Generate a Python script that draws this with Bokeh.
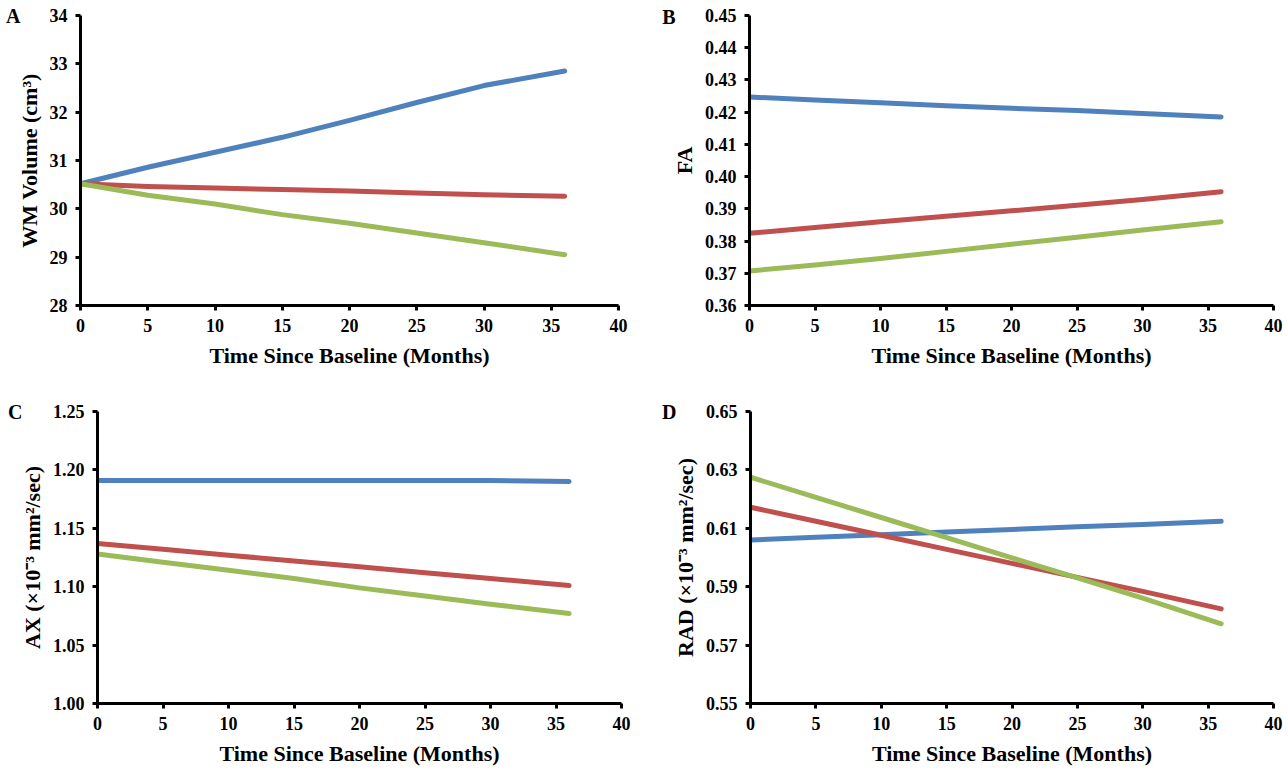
from bokeh.plotting import figure
from bokeh.layouts import column, row
from bokeh.models import Range1d, FixedTicker, NumeralTickFormatter, LinearAxis
from bokeh.embed import file_html
from bokeh.resources import INLINE

BLUE = "#4F81BD"
RED = "#C0504D"
GREEN = "#9BBB59"
FONT = "Liberation Serif"

# ---- data ----
months = [0, 5, 10, 15, 20, 25, 30, 36]
x_ticks = [0, 5, 10, 15, 20, 25, 30, 35, 40]

wm_blue = [30.52, 30.86, 31.17, 31.48, 31.83, 32.20, 32.55, 32.85]
wm_red = [30.52, 30.46, 30.43, 30.40, 30.37, 30.33, 30.29, 30.26]
wm_green = [30.52, 30.28, 30.10, 29.88, 29.70, 29.50, 29.30, 29.05]
wm_ticks = [28, 29, 30, 31, 32, 33, 34]

fa_blue = [0.4247, 0.4238, 0.4229, 0.4220, 0.4212, 0.4205, 0.4196, 0.4185]
fa_red = [0.3824, 0.3842, 0.3860, 0.3877, 0.3894, 0.3911, 0.3929, 0.3953]
fa_green = [0.3707, 0.3726, 0.3746, 0.3768, 0.3790, 0.3812, 0.3834, 0.3860]
fa_ticks = [0.36, 0.37, 0.38, 0.39, 0.40, 0.41, 0.42, 0.43, 0.44, 0.45]

ax_blue = [1.191, 1.191, 1.191, 1.191, 1.191, 1.191, 1.191, 1.190]
ax_red = [1.137, 1.132, 1.127, 1.122, 1.117, 1.112, 1.107, 1.101]
ax_green = [1.128, 1.121, 1.114, 1.107, 1.099, 1.092, 1.085, 1.077]
ax_ticks = [1.00, 1.05, 1.10, 1.15, 1.20, 1.25]

rad_blue = [0.6060, 0.6069, 0.6078, 0.6087, 0.6096, 0.6105, 0.6113, 0.6124]
rad_red = [0.6172, 0.6124, 0.6076, 0.6028, 0.5980, 0.5932, 0.5884, 0.5824]
rad_green = [0.6275, 0.6206, 0.6137, 0.6068, 0.5999, 0.5930, 0.5861, 0.5773]
rad_ticks = [0.55, 0.57, 0.59, 0.61, 0.63, 0.65]


def panel(letter, ylabel, ys, yr, yticks, fmt, width, height, bl, br, bt, bb, letter_y, letter_standoff):
    p = figure(width=width, height=height, output_backend="svg", toolbar_location=None,
               x_range=Range1d(0, 40), y_range=Range1d(*yr),
               min_border_left=bl, min_border_right=br, min_border_top=bt, min_border_bottom=bb)
    p.outline_line_color = None
    p.xgrid.visible = False
    p.ygrid.visible = False
    for y, c in zip(ys, [BLUE, RED, GREEN]):
        p.line(months, y, line_color=c, line_width=5, line_cap="round", line_join="round")
    for ax in (p.xaxis[0], p.yaxis[0]):
        ax.axis_line_width = 3
        ax.axis_line_color = "black"
        ax.major_tick_line_width = 3
        ax.major_tick_out = 5
        ax.major_tick_in = 0
        ax.minor_tick_line_color = None
        ax.major_label_standoff = 8
        ax.major_label_text_font = FONT
        ax.major_label_text_font_style = "bold"
        ax.major_label_text_font_size = "18px"
        ax.major_label_text_color = "black"
        ax.axis_label_text_font = FONT
        ax.axis_label_text_font_style = "bold"
        ax.axis_label_text_font_size = "22px"
        ax.axis_label_text_color = "black"
    p.xaxis[0].ticker = FixedTicker(ticks=x_ticks)
    p.yaxis[0].ticker = FixedTicker(ticks=yticks)
    p.yaxis[0].formatter = NumeralTickFormatter(format=fmt)
    p.xaxis[0].axis_label = "Time Since Baseline (Months)"
    p.xaxis[0].axis_label_standoff = 8
    p.yaxis[0].axis_label = ylabel
    p.yaxis[0].axis_label_standoff = 5

    # panel letter drawn as the single tick label of an outer, line-less axis
    la = LinearAxis(ticker=FixedTicker(ticks=[letter_y]),
                    major_label_overrides={letter_y: letter},
                    axis_line_color=None, major_tick_line_color=None,
                    minor_tick_line_color=None, major_label_standoff=letter_standoff,
                    major_label_text_font=FONT, major_label_text_font_style="bold",
                    major_label_text_font_size="20px", major_label_text_color="black")
    p.add_layout(la, "left")
    return p


pa = panel("A", "WM Volume (cm³)", [wm_blue, wm_red, wm_green], (28, 34), wm_ticks, "0",
           655, 384, 80, 37, 15, 79, 33.98, -13)
pb = panel("B", "FA", [fa_blue, fa_red, fa_green], (0.36, 0.45), fa_ticks, "0.00",
           631, 384, 94, 13, 15, 79, 0.4494, -13)
pc = panel("C", "AX (×10⁻³ mm²/sec)", [ax_blue, ax_red, ax_green], (1.00, 1.25), ax_ticks, "0.00",
           655, 384, 97, 34, 27, 65, 1.25, -12)
pd = panel("D", "RAD (×10⁻³ mm²/sec)", [rad_blue, rad_red, rad_green], (0.55, 0.65), rad_ticks, "0.00",
           631, 384, 95, 13, 26, 65, 0.65, -13)

layout = column(row(pa, pb), row(pc, pd))
open("out.html", "w").write(file_html(layout, INLINE))
